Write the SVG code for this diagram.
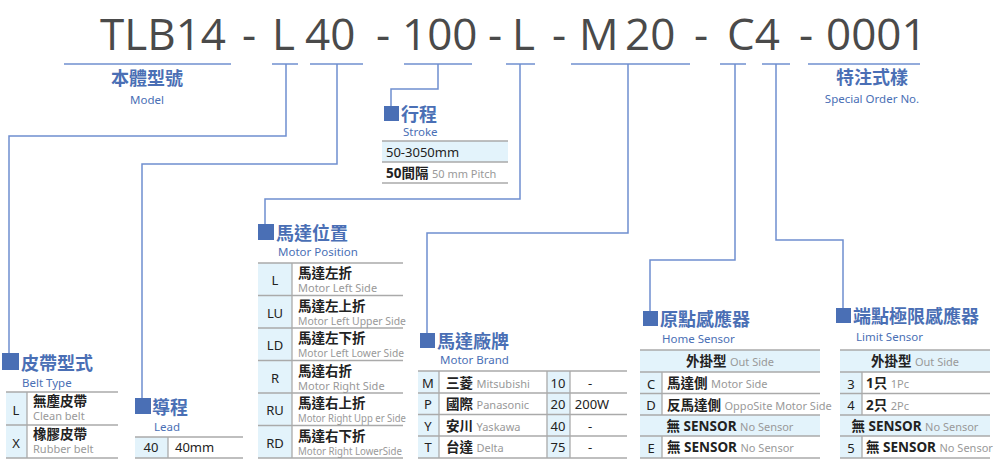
<svg xmlns="http://www.w3.org/2000/svg" width="1000" height="468" viewBox="0 0 1000 468">
<style>
text{font-family:"Noto Sans","Noto Sans CJK TC",sans-serif}
.big{font-size:44px;fill:#4a4a4a;font-family:"Open Sans","Noto Sans",sans-serif}
.ul{stroke:#6f8fcf;stroke-width:1.5}
.con{fill:none;stroke:#6f8fcf;stroke-width:1.5}
.sq{fill:#4a6fb5}
.h{font-size:18px;font-weight:bold;fill:#4a6fb5}
.s{font-size:11.5px;fill:#4a6fb5}
.c{fill:#e3f3fb}
.ln{stroke:#aaa;stroke-width:1.3}
.t{font-size:13px;fill:#222}
.k{font-size:13.5px;font-weight:bold;fill:#222}
.g{font-size:11px;fill:#999}
</style>
<g id="title">
<text class="big" x="100" y="50">TLB14</text>
<text class="big" x="242" y="50">-</text>
<text class="big" x="272" y="50">L</text>
<text class="big" x="305" y="50">40</text>
<text class="big" x="376" y="50">-</text>
<text class="big" x="402" y="50">100</text>
<text class="big" x="488" y="50">-</text>
<text class="big" x="512" y="50">L</text>
<text class="big" x="552" y="50">-</text>
<text class="big" x="579" y="50">M</text>
<text class="big" x="625" y="50">20</text>
<text class="big" x="694" y="50">-</text>
<text class="big" x="727" y="50">C4</text>
<text class="big" x="799" y="50">-</text>
<text class="big" x="826" y="50">0001</text>
<line class="ul" x1="64" y1="64" x2="231" y2="64"/>
<line class="ul" x1="272" y1="64" x2="298" y2="64"/>
<line class="ul" x1="310" y1="64" x2="363" y2="64"/>
<line class="ul" x1="404" y1="64" x2="472" y2="64"/>
<line class="ul" x1="506" y1="64" x2="535" y2="64"/>
<line class="ul" x1="571" y1="64" x2="690" y2="64"/>
<line class="ul" x1="720" y1="64" x2="746" y2="64"/>
<line class="ul" x1="762" y1="64" x2="790" y2="64"/>
<line class="ul" x1="808" y1="64" x2="920" y2="64"/>
</g>
<g id="model">
<text class="h" x="147" y="85" text-anchor="middle">本體型號</text>
<text class="s" x="147" y="104" text-anchor="middle">Model</text>
</g>
<g id="special">
<text class="h" x="872" y="84" text-anchor="middle">特注式樣</text>
<text class="s" x="872" y="103" text-anchor="middle">Special Order No.</text>
</g>
<g id="connectors">
<polyline class="con" points="286,64 286,136 9,136 9,360"/>
<polyline class="con" points="337,64 337,164 142,164 142,405"/>
<polyline class="con" points="438,64 438,89 391,89 391,110"/>
<polyline class="con" points="520,64 520,199 265,199 265,230"/>
<polyline class="con" points="628,64 628,233 427,233 427,340"/>
<polyline class="con" points="735,64 735,260 650,260 650,318"/>
<polyline class="con" points="776,64 776,240 843,240 843,316"/>
</g>
<g id="stroke">
<rect class="sq" x="384" y="106" width="15" height="15"/>
<text class="h" x="401" y="121">行程</text>
<text class="s" x="403" y="136">Stroke</text>
<rect class="c" x="382" y="141" width="126" height="21"/>
<line class="ln" x1="382" y1="141" x2="508" y2="141"/>
<line class="ln" x1="382" y1="162" x2="508" y2="162"/>
<line class="ln" x1="382" y1="183" x2="508" y2="183"/>
<text class="t" x="386" y="157">50-3050mm</text>
<text class="k" x="386" y="178">50間隔 <tspan class="g" font-weight="normal">50 mm Pitch</tspan></text>
</g>
<g id="belt">
<rect class="sq" x="2" y="353" width="17" height="17"/>
<text class="h" x="21" y="370">皮帶型式</text>
<text class="s" x="22" y="387">Belt Type</text>
<rect class="c" x="6" y="392" width="21" height="66"/>
<line class="ln" x1="6" y1="392" x2="118" y2="392"/>
<line class="ln" x1="6" y1="425" x2="118" y2="425"/>
<line class="ln" x1="6" y1="458" x2="118" y2="458"/>
<line class="ln" x1="27" y1="392" x2="27" y2="458"/>
<text class="t" x="16" y="415" text-anchor="middle" font-size="15">L</text>
<text class="t" x="16" y="448" text-anchor="middle" font-size="15">X</text>
<text class="k" x="33" y="406">無塵皮帶</text>
<text class="g" x="33" y="420">Clean belt</text>
<text class="k" x="33" y="439">橡膠皮帶</text>
<text class="g" x="33" y="453">Rubber belt</text>
</g>
<g id="lead">
<rect class="sq" x="135" y="398" width="16" height="16"/>
<text class="h" x="152" y="414">導程</text>
<text class="s" x="154" y="431">Lead</text>
<rect class="c" x="135" y="437" width="33" height="21"/>
<line class="ln" x1="135" y1="437" x2="243" y2="437"/>
<line class="ln" x1="135" y1="458" x2="243" y2="458"/>
<line class="ln" x1="168" y1="437" x2="168" y2="458"/>
<text class="t" x="151" y="452" text-anchor="middle">40</text>
<text class="t" x="175" y="452">40mm</text>
</g>
<g id="position">
<rect class="sq" x="258" y="224" width="16" height="16"/>
<text class="h" x="276" y="240">馬達位置</text>
<text class="s" x="278" y="256">Motor Position</text>
<rect class="c" x="258" y="263" width="34" height="195"/>
<g class="ln">
<line x1="258" y1="263" x2="403" y2="263"/><line x1="258" y1="295.5" x2="403" y2="295.5"/><line x1="258" y1="328" x2="403" y2="328"/><line x1="258" y1="360.5" x2="403" y2="360.5"/><line x1="258" y1="393" x2="403" y2="393"/><line x1="258" y1="425.5" x2="403" y2="425.5"/><line x1="258" y1="458" x2="403" y2="458"/><line x1="292" y1="263" x2="292" y2="458"/>
</g>
<g class="t" font-size="15" text-anchor="middle">
<text x="275" y="285">L</text><text x="275" y="318">LU</text><text x="275" y="350">LD</text><text x="275" y="383">R</text><text x="275" y="415">RU</text><text x="275" y="448">RD</text>
</g>
<text class="k" x="298" y="278">馬達左折</text><text class="g" x="298" y="292">Motor Left Side</text>
<text class="k" x="298" y="311">馬達左上折</text><text class="g" x="298" y="325" textLength="108" lengthAdjust="spacingAndGlyphs">Motor Left Upper Side</text>
<text class="k" x="298" y="343">馬達左下折</text><text class="g" x="298" y="357" textLength="106" lengthAdjust="spacingAndGlyphs">Motor Left Lower Side</text>
<text class="k" x="298" y="376">馬達右折</text><text class="g" x="298" y="390">Motor Right Side</text>
<text class="k" x="298" y="408">馬達右上折</text><text class="g" x="298" y="422" textLength="108" lengthAdjust="spacingAndGlyphs">Motor Right Upp er Side</text>
<text class="k" x="298" y="441">馬達右下折</text><text class="g" x="298" y="455" textLength="104" lengthAdjust="spacingAndGlyphs">Motor Right LowerSide</text>
</g>
<g id="brand">
<rect class="sq" x="420" y="333" width="15" height="15"/>
<text class="h" x="437" y="348">馬達廠牌</text>
<text class="s" x="440" y="364">Motor Brand</text>
<rect class="c" x="418" y="371" width="21" height="87"/>
<rect class="c" x="547" y="371" width="23" height="87"/>
<g class="ln">
<line x1="418" y1="371" x2="627" y2="371"/><line x1="418" y1="393" x2="627" y2="393"/><line x1="418" y1="414.5" x2="627" y2="414.5"/><line x1="418" y1="436" x2="627" y2="436"/><line x1="418" y1="458" x2="627" y2="458"/>
<line x1="439" y1="371" x2="439" y2="458"/><line x1="547" y1="371" x2="547" y2="458"/><line x1="570" y1="371" x2="570" y2="458"/>
</g>
<g class="t" font-size="15" text-anchor="middle">
<text x="428" y="388">M</text><text x="428" y="409">P</text><text x="428" y="431">Y</text><text x="428" y="452">T</text>
<text x="558" y="388">10</text><text x="558" y="409">20</text><text x="558" y="431">40</text><text x="558" y="452">75</text>
<text x="590" y="388">-</text><text x="592" y="409">200W</text><text x="590" y="431">-</text><text x="590" y="452">-</text>
</g>
<text class="k" x="446" y="388">三菱 <tspan class="g" font-weight="normal">Mitsubishi</tspan></text>
<text class="k" x="446" y="409">國際 <tspan class="g" font-weight="normal">Panasonic</tspan></text>
<text class="k" x="446" y="431">安川 <tspan class="g" font-weight="normal">Yaskawa</tspan></text>
<text class="k" x="446" y="452">台達 <tspan class="g" font-weight="normal">Delta</tspan></text>
</g>
<g id="home">
<rect class="sq" x="643" y="311" width="15" height="15"/>
<text class="h" x="660" y="326">原點感應器</text>
<text class="s" x="662" y="343">Home Sensor</text>
<rect class="c" x="640" y="350" width="180" height="22"/>
<rect class="c" x="640" y="372" width="22" height="86"/>
<rect class="c" x="640" y="415" width="180" height="21"/>
<g class="ln">
<line x1="640" y1="350" x2="820" y2="350"/><line x1="640" y1="372" x2="820" y2="372"/><line x1="640" y1="393.5" x2="820" y2="393.5"/><line x1="640" y1="415" x2="820" y2="415"/><line x1="640" y1="436" x2="820" y2="436"/><line x1="640" y1="458" x2="820" y2="458"/>
<line x1="662" y1="372" x2="662" y2="415"/><line x1="662" y1="436" x2="662" y2="458"/>
</g>
<text class="k" x="730" y="366" text-anchor="middle">外掛型 <tspan class="g" font-weight="normal" font-size="12">Out Side</tspan></text>
<g class="t" font-size="15" text-anchor="middle"><text x="651" y="389">C</text><text x="651" y="410">D</text><text x="651" y="453">E</text></g>
<text class="k" x="667" y="388">馬達側 <tspan class="g" font-weight="normal" font-size="11.5">Motor Side</tspan></text>
<text class="k" x="667" y="410">反馬達側 <tspan class="g" font-weight="normal" font-size="9.5">OppoSite Motor Side</tspan></text>
<text class="k" x="730" y="431" text-anchor="middle">無 SENSOR <tspan class="g" font-weight="normal" font-size="11.5">No Sensor</tspan></text>
<text class="k" x="667" y="452">無 SENSOR <tspan class="g" font-weight="normal" font-size="11.5">No Sensor</tspan></text>
</g>
<g id="limit">
<rect class="sq" x="836" y="308" width="15" height="15"/>
<text class="h" x="853" y="323">端點極限感應器</text>
<text class="s" x="856" y="341">Limit Sensor</text>
<rect class="c" x="840" y="350" width="150" height="22"/>
<rect class="c" x="840" y="372" width="22" height="86"/>
<rect class="c" x="840" y="415" width="150" height="21"/>
<g class="ln">
<line x1="840" y1="350" x2="990" y2="350"/><line x1="840" y1="372" x2="990" y2="372"/><line x1="840" y1="393.5" x2="990" y2="393.5"/><line x1="840" y1="415" x2="990" y2="415"/><line x1="840" y1="436" x2="990" y2="436"/><line x1="840" y1="458" x2="990" y2="458"/>
<line x1="862" y1="372" x2="862" y2="415"/><line x1="862" y1="436" x2="862" y2="458"/>
</g>
<text class="k" x="915" y="366" text-anchor="middle">外掛型 <tspan class="g" font-weight="normal" font-size="12">Out Side</tspan></text>
<g class="t" font-size="15" text-anchor="middle"><text x="851" y="389">3</text><text x="851" y="410">4</text><text x="851" y="453">5</text></g>
<text class="k" x="866" y="388">1只 <tspan class="g" font-weight="normal">1Pc</tspan></text>
<text class="k" x="866" y="410">2只 <tspan class="g" font-weight="normal">2Pc</tspan></text>
<text class="k" x="915" y="431" text-anchor="middle">無 SENSOR <tspan class="g" font-weight="normal" font-size="11.5">No Sensor</tspan></text>
<text class="k" x="866" y="452">無 SENSOR <tspan class="g" font-weight="normal" font-size="11.5">No Sensor</tspan></text>
</g>
</svg>
